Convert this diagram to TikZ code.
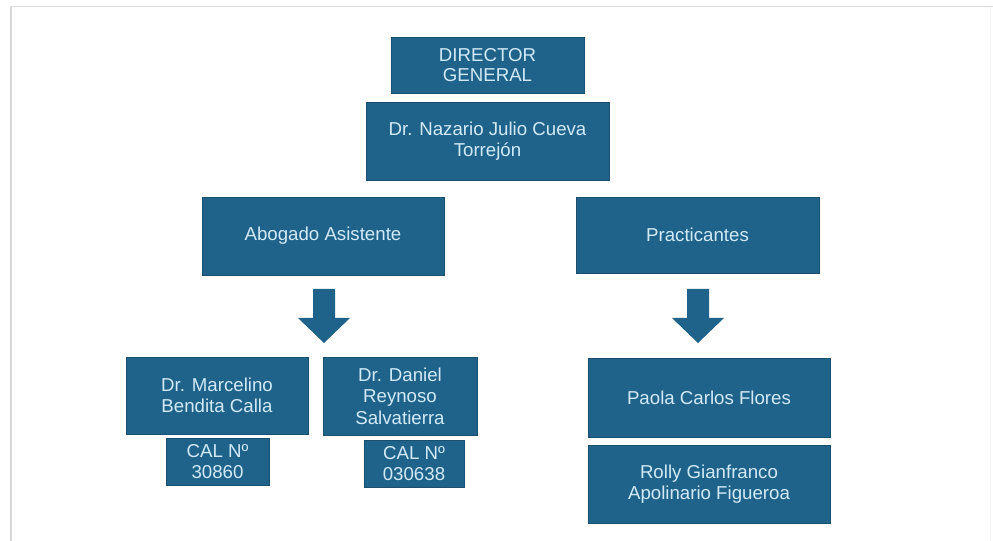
\documentclass[tikz,border=0pt]{standalone}
\usepackage{fontspec}
\setmainfont{Liberation Sans}
\definecolor{boxblue}{RGB}{31,99,139}
\definecolor{boxtext}{RGB}{210,234,248}

\begin{document}
\begin{tikzpicture}
[x=0.75pt, y=-0.75pt,
 every node/.style={inner sep=0pt},
 orgbox/.style={rectangle, fill=boxblue, draw=boxblue!80!black, line width=0.5pt, text=boxtext, align=center, font=\fontsize{14}{15.5}\selectfont}]
\useasboundingbox (0,0) rectangle (993,541);
\draw [gray!30, line width=1.2pt] (11,541) -- (11,6.5) -- (993,6.5);
\draw [gray!6, line width=0.8pt] (990.5,7) -- (990.5,541);

\node (dir) [orgbox, minimum width=144.75pt, minimum height=42pt] at (487.5,65) {DIRECTOR\\GENERAL};
\node (nazario) [orgbox, minimum width=182.25pt, minimum height=58.5pt] at (487.5,141) {Dr. Nazario Julio Cueva\\Torrejón};
\node (abogado) [orgbox, minimum width=181.5pt, minimum height=58.5pt] at (323,236) {Abogado Asistente};
\node (practic) [orgbox, minimum width=182.25pt, minimum height=57pt] at (697.5,235) {Practicantes};
\node (marcelino) [orgbox, minimum width=136.5pt, minimum height=57.75pt] at (217,395.5) {Dr. Marcelino\\Bendita Calla};
\node (daniel) [orgbox, minimum width=115.5pt, minimum height=58.5pt, font=\fontsize{14}{16}\selectfont] at (400,396) {Dr. Daniel\\Reynoso\\Salvatierra};
\node (cal1) [orgbox, minimum width=77.25pt, minimum height=35.25pt] at (217.5,461.5) {CAL Nº\\30860};
\node (cal2) [orgbox, minimum width=75pt, minimum height=35.25pt] at (414,463.5) {CAL Nº\\030638};
\node (paola) [orgbox, minimum width=181.5pt, minimum height=59.25pt] at (709,397.5) {Paola Carlos Flores};
\node (rolly) [orgbox, minimum width=181.5pt, minimum height=58.5pt] at (709,484) {Rolly Gianfranco\\Apolinario Figueroa};

% block arrows under the two groups
\coordinate (arrowL) at (324,289);
\coordinate (arrowR) at (698,289);
\fill [boxblue] (arrowL) ++(-11,0) -- ++(22,0) -- ++(0,29) -- ++(15,0) -- ++(-26,25) -- ++(-26,-25) -- ++(15,0) -- cycle;
\fill [boxblue] (arrowR) ++(-11,0) -- ++(22,0) -- ++(0,29) -- ++(15,0) -- ++(-26,25) -- ++(-26,-25) -- ++(15,0) -- cycle;

\end{tikzpicture}
\end{document}
